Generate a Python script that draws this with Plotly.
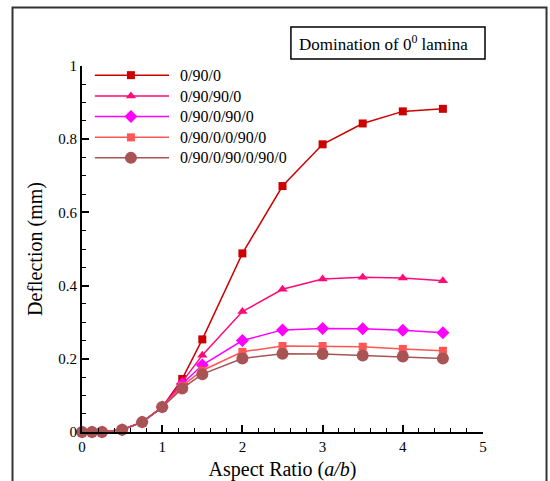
import plotly.graph_objects as go

# Aspect ratio a/b sampled for every laminate
aspect_ratio = [0, 0.125, 0.25, 0.5, 0.75, 1, 1.25, 1.5, 2, 2.5, 3, 3.5, 4, 4.5]

# Central deflection (mm) per stacking sequence
defl_0_90_0 = [0, 0, 0, 0.006, 0.027, 0.068, 0.145, 0.253, 0.488, 0.672, 0.786, 0.843, 0.876, 0.883]
defl_0_90_90_0 = [0, 0, 0, 0.006, 0.027, 0.068, 0.137, 0.210, 0.329, 0.390, 0.418, 0.423, 0.421, 0.413]
defl_0_90_0_90_0 = [0, 0, 0, 0.006, 0.027, 0.068, 0.131, 0.183, 0.250, 0.279, 0.283, 0.282, 0.278, 0.271]
defl_0_90_0_0_90_0 = [0, 0, 0, 0.006, 0.027, 0.068, 0.126, 0.168, 0.219, 0.235, 0.235, 0.233, 0.227, 0.222]
defl_0_90_0_90_0_90_0 = [0, 0, 0, 0.006, 0.027, 0.068, 0.119, 0.158, 0.201, 0.214, 0.213, 0.209, 0.206, 0.201]

series_names = ["0/90/0", "0/90/90/0", "0/90/0/90/0", "0/90/0/0/90/0", "0/90/0/90/0/90/0"]
series_values = [defl_0_90_0, defl_0_90_90_0, defl_0_90_0_90_0, defl_0_90_0_0_90_0, defl_0_90_0_90_0_90_0]

x_ticks = [0, 1, 2, 3, 4, 5]
y_ticks = [0, 0.2, 0.4, 0.6, 0.8, 1]
y_tick_text = ["0", "0.2", "0.4", "0.6", "0.8", "1"]

colors = ["#CC0000", "#FF0A7A", "#FF00FF", "#FF5555", "#A85454"]
symbols = ["square", "triangle-up", "diamond", "square", "circle"]
sizes = [8, 9, 10, 8, 12]

FONT = "Liberation Serif"

fig = go.Figure()

for name, vals, c, s, sz in zip(series_names, series_values, colors, symbols, sizes):
    fig.add_trace(go.Scatter(
        x=aspect_ratio, y=vals, name=name, mode="lines+markers",
        line=dict(color=c, width=1.5),
        marker=dict(symbol=s, size=sz, color=c, line=dict(width=0)),
        cliponaxis=False, showlegend=False,
    ))

# Hand-built legend on a hidden overlay axis (0..1 in both directions)
leg_x0, leg_x1, leg_xm, leg_text_x = 0.032, 0.217, 0.122, 0.240
leg_rows = [0.975, 0.918, 0.862, 0.805, 0.749]
for name, c, s, sz, ry in zip(series_names, colors, symbols, sizes, leg_rows):
    fig.add_trace(go.Scatter(
        x=[leg_x0, leg_x1], y=[ry, ry], mode="lines",
        line=dict(color=c, width=1.5), xaxis="x2", yaxis="y2",
        showlegend=False, hoverinfo="skip",
    ))
    fig.add_trace(go.Scatter(
        x=[leg_xm], y=[ry], mode="markers",
        marker=dict(symbol=s, size=sz, color=c, line=dict(width=0)), xaxis="x2", yaxis="y2",
        showlegend=False, hoverinfo="skip",
    ))
    fig.add_annotation(
        x=leg_text_x, y=ry, xref="x2", yref="y2", text=name, showarrow=False,
        xanchor="left", yanchor="middle", font=dict(family=FONT, size=16, color="black"),
    )

axis_common = dict(
    showline=True, linecolor="black", linewidth=2, mirror=False,
    ticks="inside", ticklen=7, tickwidth=1.5, tickcolor="black",
    showgrid=False, zeroline=False, automargin=False,
    tickfont=dict(family=FONT, size=15, color="black"),
)

fig.update_layout(
    template="none",
    width=550, height=481,
    margin=dict(l=82, r=67, t=66, b=49),
    paper_bgcolor="white", plot_bgcolor="white",
    font=dict(family=FONT, color="black"),
    xaxis=dict(
        range=[0, 5], tickvals=x_ticks, ticktext=[str(v) for v in x_ticks],
        minor=dict(dtick=0.2, ticks="inside", ticklen=4, tickwidth=1, tickcolor="black"),
        title=dict(text="Aspect Ratio (<i>a/b</i>)", font=dict(family=FONT, size=20), standoff=8),
        **axis_common,
    ),
    yaxis=dict(
        range=[0, 1], tickvals=y_ticks, ticktext=y_tick_text,
        minor=dict(dtick=0.05, ticks="inside", ticklen=4, tickwidth=1, tickcolor="black"),
        title=dict(text="Deflection (mm)", font=dict(family=FONT, size=20), standoff=10),
        **axis_common,
    ),
    xaxis2=dict(overlaying="x", range=[0, 1], visible=False),
    yaxis2=dict(overlaying="y", range=[0, 1], visible=False),
)

# Outer frame (open at the bottom)
fig.add_shape(
    type="path", xref="paper", yref="paper",
    path="M -0.1733 -0.16 L -0.1733 1.1598 L 1.1584 1.1598 L 1.1584 -0.16",
    line=dict(color="#333333", width=2),
)

# Boxed heading
fig.add_shape(
    type="rect", xref="paper", yref="paper",
    x0=0.521, x1=1.005, y0=1.019, y1=1.1066,
    line=dict(color="black", width=1.5), fillcolor="white",
)
fig.add_annotation(
    x=0.752, y=1.063, xref="paper", yref="paper", showarrow=False,
    text="Domination of 0<sup>0</sup> lamina", xanchor="center", yanchor="middle",
    font=dict(family=FONT, size=17, color="black"),
)

fig.write_html("out.html")
